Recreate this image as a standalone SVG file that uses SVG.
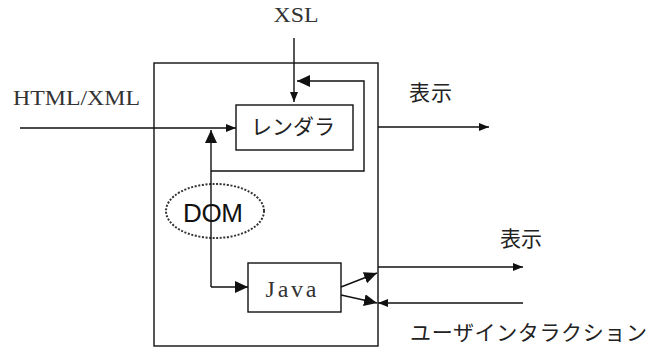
<svg xmlns="http://www.w3.org/2000/svg" width="664" height="351" viewBox="0 0 664 351">
  <style>
    .box { fill: none; stroke: #111; stroke-width: 1.4; }
    .line { fill: none; stroke: #111; stroke-width: 1.4; }
    .lat { font-family: "Liberation Serif", "Times New Roman", serif; font-size: 22px; fill: #333; }
    .jp { font-family: "Liberation Serif", "Noto Sans CJK JP", sans-serif; font-size: 21px; fill: #222; }
    .sans { font-family: "Liberation Sans", Arial, sans-serif; font-size: 26px; fill: #111; }
  </style>
  <defs>
    <marker id="arrowS" markerUnits="userSpaceOnUse" markerWidth="10" markerHeight="8" refX="10" refY="4" orient="auto">
      <path d="M0,0 L10,4 L0,8 z" fill="#111"/>
    </marker>
    <marker id="arrowL" markerUnits="userSpaceOnUse" markerWidth="13" markerHeight="12" refX="13" refY="6" orient="auto">
      <path d="M0,0 L13,6 L0,12 z" fill="#111"/>
    </marker>
  </defs>

  <rect width="664" height="351" fill="#fff"/>

  <!-- enclosing browser frame -->
  <g id="frame">
    <rect class="box" x="154" y="63" width="224" height="283"/>
  </g>

  <!-- renderer -->
  <g id="renderer">
    <rect class="box" x="236" y="105" width="117" height="45"/>
    <text class="jp" x="293" y="134" text-anchor="middle" textLength="84">レンダラ</text>
  </g>

  <!-- DOM -->
  <g id="dom">
    <ellipse cx="215" cy="211" rx="49" ry="27" fill="none" stroke="#333" stroke-width="2" stroke-dasharray="2 1.6"/>
    <text class="sans" x="213" y="222" text-anchor="middle" textLength="60">DOM</text>
  </g>

  <!-- Java -->
  <g id="java">
    <rect class="box" x="248" y="263" width="93" height="49"/>
    <text class="lat" x="291" y="297" text-anchor="middle" textLength="51" style="font-size:24px">Java</text>
  </g>

  <!-- external labels -->
  <g id="labels">
    <text class="lat" x="296" y="22" text-anchor="middle" textLength="45" lengthAdjust="spacingAndGlyphs">XSL</text>
    <text class="lat" x="13" y="105" textLength="127" lengthAdjust="spacingAndGlyphs">HTML/XML</text>
    <text class="jp" x="409" y="100" textLength="43">表示</text>
    <text class="jp" x="500" y="246" textLength="42">表示</text>
    <text class="jp" x="410" y="340" textLength="237">ユーザインタラクション</text>
  </g>

  <!-- connectors -->
  <g id="connectors">
    <!-- XSL into renderer -->
    <path class="line" d="M294,38 L294,102" marker-end="url(#arrowS)"/>
    <!-- HTML/XML into renderer -->
    <path class="line" d="M20,128 L236,128" marker-end="url(#arrowS)"/>
    <!-- renderer output -->
    <path class="line" d="M378,127 L489,127" marker-end="url(#arrowS)"/>
    <!-- feedback loop around renderer -->
    <path class="line" d="M211,171 L364,171 L364,81 L297,81" marker-end="url(#arrowL)"/>
    <!-- DOM link up to renderer and over to Java -->
    <path class="line" d="M211,287 L211,130" marker-end="url(#arrowL)"/>
    <path class="line" d="M211,287 L248,287" marker-end="url(#arrowL)"/>
    <!-- Java to frame edge -->
    <path class="line" d="M341,287 L377,273" marker-end="url(#arrowL)"/>
    <path class="line" d="M341,295 L377,303" marker-end="url(#arrowL)"/>
    <!-- Java output -->
    <path class="line" d="M378,267 L523,267" marker-end="url(#arrowS)"/>
    <!-- user interaction input -->
    <path class="line" d="M523,303 L378,303" marker-end="url(#arrowS)"/>
  </g>
</svg>
